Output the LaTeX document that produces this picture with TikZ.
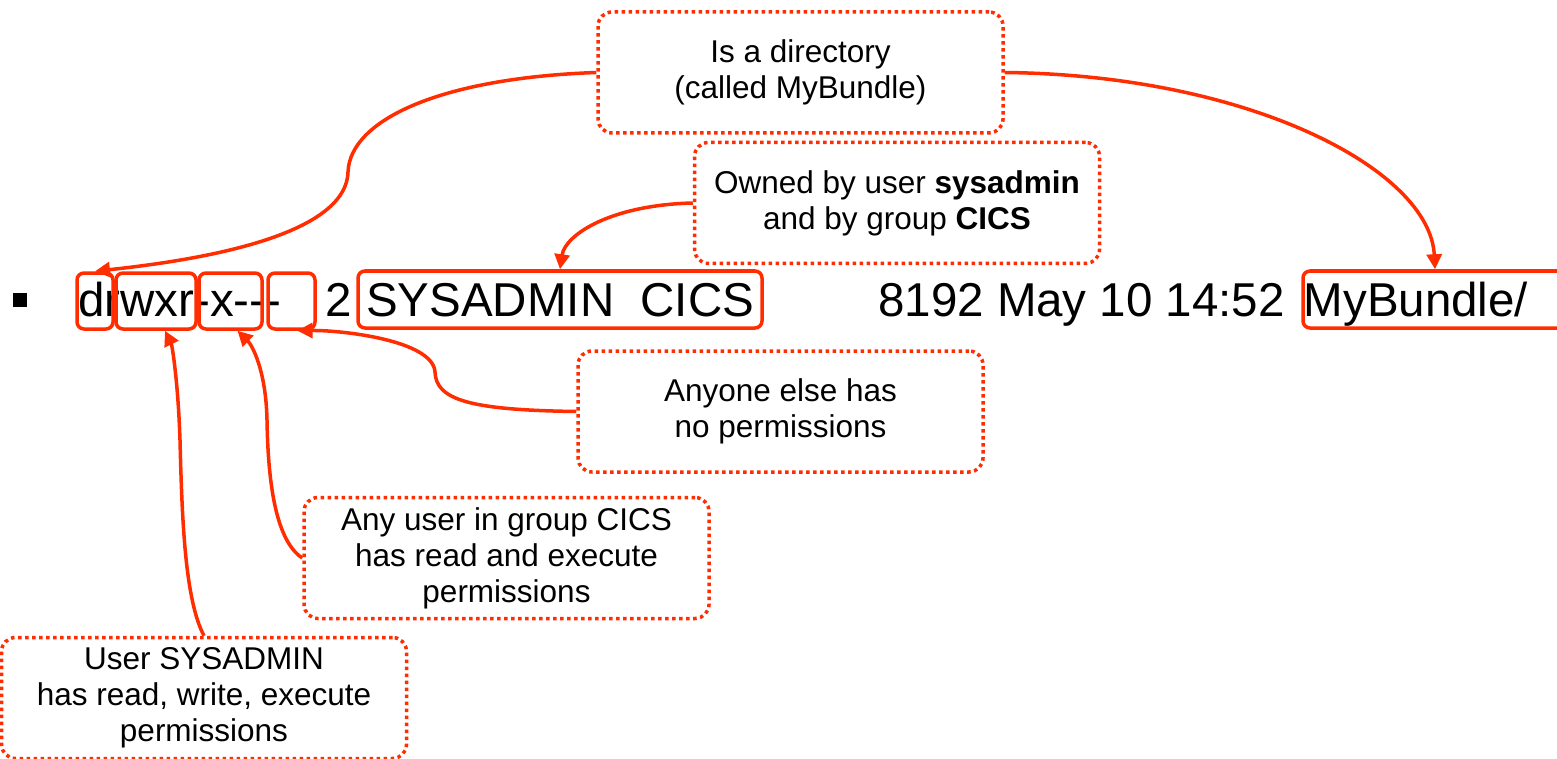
\documentclass[tikz,border=0pt]{standalone}
\usepackage{fontspec}
\setmainfont{Liberation Sans}
\usetikzlibrary{arrows.meta}
\definecolor{markred}{RGB}{255,45,0}

\begin{document}
\begin{tikzpicture}[x=1pt,y=-1pt]
\tikzstyle{perm-box}=
[
	draw=markred, line width=3.5pt,
	rounded corners=7pt, inner sep=0pt
]
\tikzstyle{note-box}=
[
	draw=markred, line width=3.5pt,
	dash pattern=on 3.5pt off 3.5pt, rounded corners=14pt,
	minimum width=405pt, minimum height=121pt,
	align=center, font=\fontsize{31.5}{36}\selectfont
]
\tikzstyle{note-arrow}=[draw=markred, line width=3.5pt, -{Triangle[length=15pt,width=15pt]}]
\tikzstyle{listing}=[anchor=base west, inner sep=0pt, font=\fontsize{47.5}{57}\selectfont]

\useasboundingbox (0,0) rectangle (1557,759);

% the listing line
\node[fill, minimum size=14pt, inner sep=0pt] (bullet) at (20,299.5) {};
\node[listing] (perms) at (78,316) {drwxr-x{-}{-}{-}};
\node[listing] (links) at (325,316) {2};
\node[listing] (owners) at (366,316) {SYSADMIN\ \ CICS};
\node[listing] (details) at (878,316) {8192 May 10 14:52};
\node[listing] (fname) at (1303.5,316) {MyBundle/};

% highlight boxes
\node[perm-box, minimum width=36pt, minimum height=56pt] (dbox) at (95,301) {};
\node[perm-box, minimum width=80pt, minimum height=56pt] (ubox) at (156,301) {};
\node[perm-box, minimum width=63pt, minimum height=56pt] (gbox) at (230.5,301) {};
\node[perm-box, minimum width=47pt, minimum height=56pt] (obox) at (291.5,301) {};
\node[perm-box, minimum width=404pt, minimum height=57pt] (ownbox) at (560,299.5) {};
\node[perm-box, minimum width=264pt, minimum height=57pt] (filebox) at (1435,299.5) {};

% notes
\node[note-box] (isdir) at (800.5,72.5) {Is a directory\\(called MyBundle)};
\node[note-box] (owner) at (897,203) {Owned by user \textbf{sysadmin}\\and by group \textbf{CICS}};
\node[note-box] (others) at (780.5,411.5) {Anyone else has\\no permissions};
\node[note-box] (group) at (506.5,558) {Any user in group CICS\\has read and execute\\permissions};
\node[note-box] (user) at (204,698) {User SYSADMIN\\has read, write, execute\\permissions};

% arrows
\draw[note-arrow] (isdir.west) .. controls (440,78) and (350,120) .. (348,172)
	.. controls (346,240) and (180,262) .. (dbox.north);
\draw[note-arrow] (isdir.east) .. controls (1250,75) and (1430,170) .. (filebox.north);
\draw[note-arrow] (owner.west) .. controls (610,205) and (565,235) .. (ownbox.north);
\draw[note-arrow] (others.west) .. controls (470,410) and (436,400) .. (435,372)
	.. controls (433,340) and (340,330) .. ([xshift=6pt]obox.south);
\draw[note-arrow] (group.west) .. controls (275,540) and (268,480) .. (267,420)
	.. controls (266,370) and (252,345) .. ([xshift=7pt]gbox.south);
\draw[note-arrow] (user.north) .. controls (185,600) and (182,520) .. (180,440)
	.. controls (178,380) and (172,345) .. ([xshift=9pt]ubox.south);
\end{tikzpicture}
\end{document}
